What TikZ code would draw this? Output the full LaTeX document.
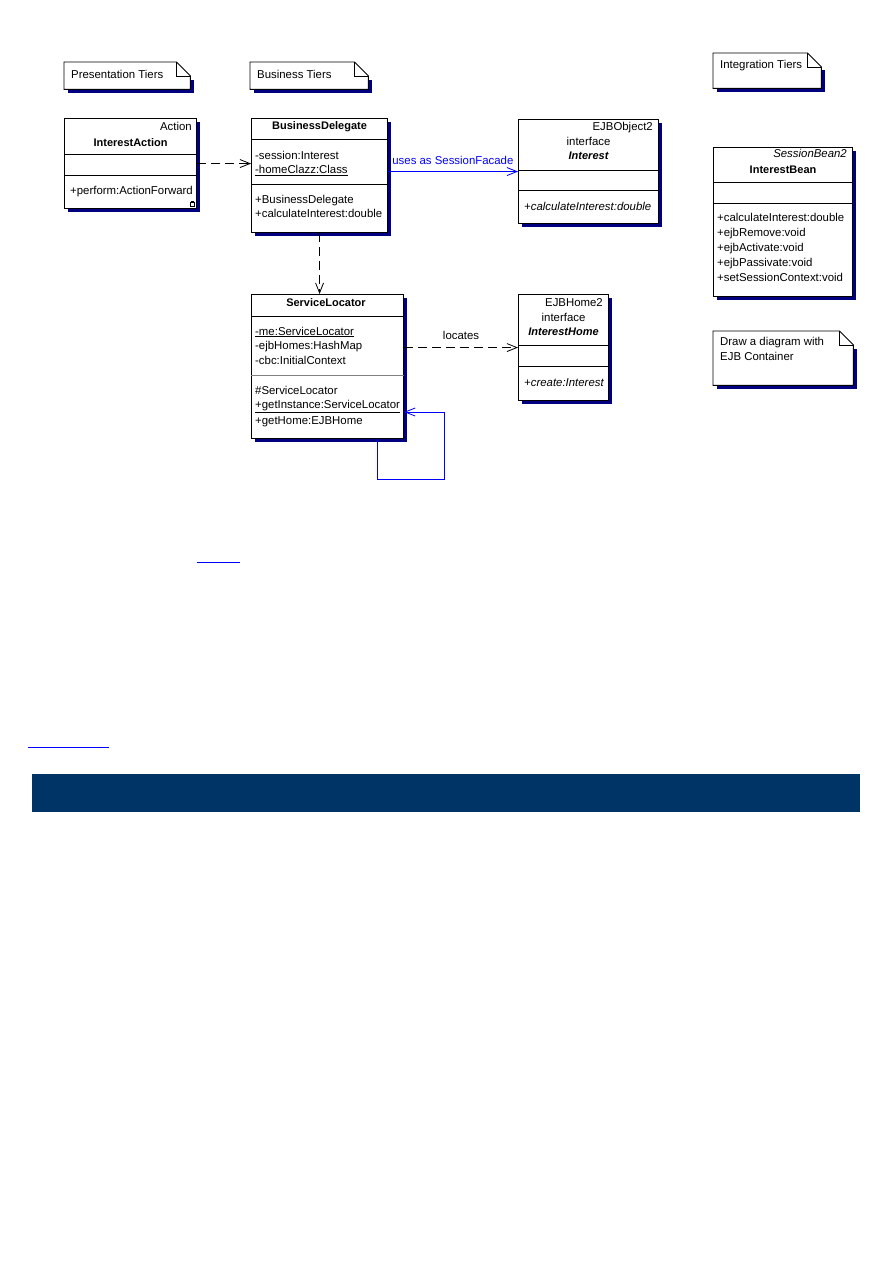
\documentclass[tikz,border=0pt]{standalone}
\usepackage{fontspec}
\setmainfont{Liberation Sans}
\definecolor{ShadowNavy}{HTML}{000080}
\definecolor{BandNavy}{HTML}{003366}
\definecolor{LinkBlue}{HTML}{0000FF}
\usetikzlibrary{arrows.meta,shadows}

\tikzset{
  umlbox/.style={draw, line width=1.1pt, fill=white, anchor=north west, inner sep=0pt,
    drop shadow={shadow xshift=3.5pt, shadow yshift=-3.5pt, fill=ShadowNavy, opacity=1}},
  notebox/.style={anchor=north west, inner sep=0pt},
  sep/.style={line width=0.9pt},
  txt/.style={anchor=base west, inner sep=0pt, font=\fontsize{11.4}{13}\selectfont},
  ttl/.style={anchor=base, inner sep=0pt, font=\fontsize{11}{13}\selectfont\bfseries},
  ster/.style={anchor=base east, inner sep=0pt, font=\fontsize{11.4}{13}\selectfont},
  dep/.style={dash pattern=on 9pt off 5pt, line width=0.8pt, -{Straight Barb[length=10pt,width=8pt]}},
  assoc/.style={LinkBlue, line width=0.8pt, -{Straight Barb[length=10pt,width=8pt]}}
}

\begin{document}
\begin{tikzpicture}[x=1pt,y=-1pt]
  \useasboundingbox (0,0) rectangle (893,1263);
  % notes
  \node[notebox, minimum width=126, minimum height=27] (pt) at (64,62) {};
  \node[notebox, minimum width=118, minimum height=27] (bt) at (250,62) {};
  \node[notebox, minimum width=108, minimum height=35] (it) at (713,53) {};
  \node[notebox, minimum width=140, minimum height=54] (dn) at (713,331) {};
  \foreach \n in {pt,bt,it,dn} {
    \fill[ShadowNavy] ([shift={(3.5pt,-17.5pt)}]\n.north west) rectangle ([shift={(3.5pt,-3.5pt)}]\n.south east);
    \filldraw[fill=white, line width=0.9pt] (\n.north west) -- ([xshift=-14pt]\n.north east)
      -- ([yshift=-14pt]\n.north east) -- (\n.south east) -- (\n.south west) -- cycle;
    \draw[line width=0.9pt] ([xshift=-14pt]\n.north east) |- ([yshift=-14pt]\n.north east);
  }
  \node[txt] (pt-l) at (71,78) {Presentation Tiers};
  \node[txt] (bt-l) at (257,78) {Business Tiers};
  \node[txt] (it-l) at (720,69) {Integration Tiers};
  \node[txt] (dn-l1) at (720,345) {Draw a diagram with};
  \node[txt] (dn-l2) at (720,360) {EJB Container};

  % InterestAction
  \node[umlbox, minimum width=132, minimum height=90] (ia) at (64,118) {};
  \draw[sep] (ia.west |- 0,154) -- (ia.east |- 0,154);
  \draw[sep] (ia.west |- 0,175) -- (ia.east |- 0,175);
  \node[ster] (ia-s) at (192,130) {Action};
  \node[ttl] (ia-t) at (ia.north |- 0,146) {InterestAction};
  \node[txt] (ia-m) at (70,194) {+perform:ActionForward};
  \draw[line width=0.6pt] (190.5,202.5) rectangle (194.5,206);
  \draw[line width=0.6pt] (191.5,202.5) -- (191.5,200.8) -- (193.5,200.8) -- (193.5,202.5);

  % BusinessDelegate
  \node[umlbox, minimum width=136, minimum height=114] (bd) at (251,118) {};
  \draw[sep] (bd.west |- 0,139.5) -- (bd.east |- 0,139.5);
  \draw[sep] (bd.west |- 0,184) -- (bd.east |- 0,184);
  \node[ttl] (bd-t) at (bd.north |- 0,129.5) {BusinessDelegate};
  \node[txt] (bd-a1) at (255,159.5) {-session:Interest};
  \node[txt] (bd-a2) at (255,173.5) {\underline{-homeClazz:Class}};
  \node[txt] (bd-m1) at (255,203.5) {+BusinessDelegate};
  \node[txt] (bd-m2) at (255,217.5) {+calculateInterest:double};

  % Interest
  \node[umlbox, minimum width=140, minimum height=104] (io) at (518,119) {};
  \draw[sep] (io.west |- 0,170) -- (io.east |- 0,170);
  \draw[sep] (io.west |- 0,190) -- (io.east |- 0,190);
  \node[ster] (io-s) at (653,130) {EJBObject2};
  \node[txt, anchor=base] (io-k) at (io.north |- 0,145) {interface};
  \node[ttl, font=\fontsize{11}{13}\selectfont\bfseries\itshape] (io-t) at (io.north |- 0,159) {Interest};
  \node[txt, font=\fontsize{11.4}{13}\selectfont\itshape] (io-m) at (524,210) {+calculateInterest:double};

  % InterestBean
  \node[umlbox, minimum width=139, minimum height=149] (ib) at (713,147) {};
  \draw[sep] (ib.west |- 0,182) -- (ib.east |- 0,182);
  \draw[sep] (ib.west |- 0,203.5) -- (ib.east |- 0,203.5);
  \node[ster, font=\fontsize{11.4}{13}\selectfont\itshape] (ib-s) at (847,157) {SessionBean2};
  \node[ttl] (ib-t) at (ib.north |- 0,173) {InterestBean};
  \foreach \m [count=\i from 0] in {+calculateInterest:double,+ejbRemove:void,+ejbActivate:void,+ejbPassivate:void,+setSessionContext:void}
    \node[txt] (ib-m\i) at (717,221.5+15*\i) {\m};

  % ServiceLocator
  \node[umlbox, minimum width=152, minimum height=144] (sl) at (251,294) {};
  \draw[sep] (sl.west |- 0,316) -- (sl.east |- 0,316);
  \draw[sep, gray] (sl.west |- 0,375) -- (sl.east |- 0,375);
  \node[ttl] (sl-t) at (326,306) {ServiceLocator};
  \node[txt] (sl-a1) at (255,335) {\underline{-me:ServiceLocator}};
  \node[txt] (sl-a2) at (255,349.5) {-ejbHomes:HashMap};
  \node[txt] (sl-a3) at (255,364) {-cbc:InitialContext};
  \node[txt] (sl-m1) at (255,394) {\#ServiceLocator};
  \node[txt] (sl-m2) at (255,408.5) {\underline{+getInstance:ServiceLocator}};
  \node[txt] (sl-m3) at (255,424) {+getHome:EJBHome};

  % InterestHome
  \node[umlbox, minimum width=90, minimum height=106] (ih) at (518,294) {};
  \draw[sep] (ih.west |- 0,345.5) -- (ih.east |- 0,345.5);
  \draw[sep] (ih.west |- 0,366) -- (ih.east |- 0,366);
  \node[ster] (ih-s) at (603,306) {EJBHome2};
  \node[txt, anchor=base] (ih-k) at (ih.north |- 0,321) {interface};
  \node[ttl, font=\fontsize{11}{13}\selectfont\bfseries\itshape] (ih-t) at (ih.north |- 0,335) {InterestHome};
  \node[txt, font=\fontsize{11.4}{13}\selectfont\itshape] (ih-m) at (524,386) {+create:Interest};

  % connectors
  \draw[dep] (ia.east) -- (ia.east -| bd.west);
  \draw[dep] (bd.south) -- (bd.south |- sl.north);
  \draw[assoc] (io.west -| bd.east) -- (io.west)
    node[pos=0.03, anchor=base west, inner sep=0pt, yshift=7pt, font=\fontsize{11.4}{13}\selectfont] (uses) {uses as SessionFacade};
  \draw[dep] (ih.west -| sl.east) -- (ih.west)
    node[midway, anchor=base, inner sep=0pt, yshift=8pt, font=\fontsize{11.4}{13}\selectfont] (loc) {locates};
  \draw[assoc] (sl.south -| 377,0) -- ++(0,40) -| (444,412) -- (sl.east |- 0,412);

  % page remains
  \draw[LinkBlue, line width=1pt] (197,562) -- (240,562);
  \draw[LinkBlue, line width=1pt] (28,747) -- (109,747);
  \fill[BandNavy] (32,774) rectangle (860,812);
\end{tikzpicture}
\end{document}
